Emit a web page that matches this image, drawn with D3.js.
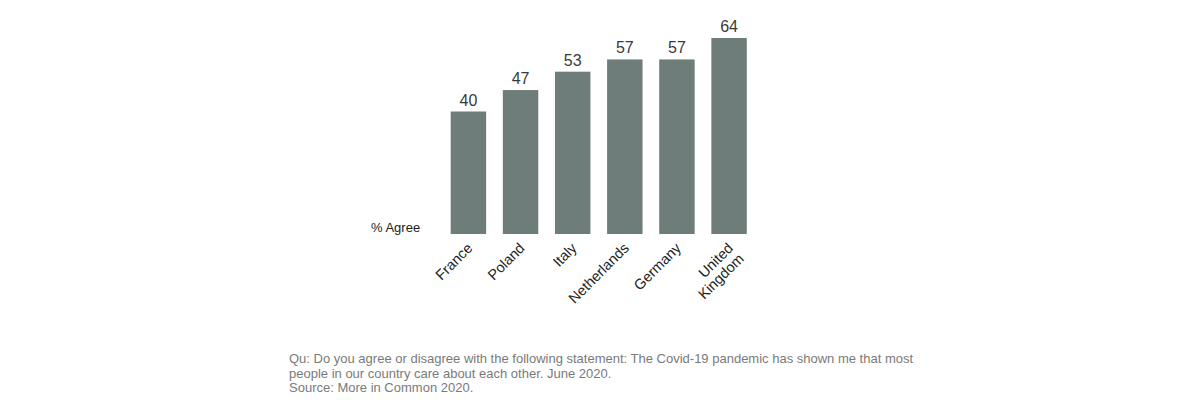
<!DOCTYPE html>
<html>
<head>
<meta charset="utf-8">
<script src="https://cdn.jsdelivr.net/npm/d3@7"></script>
<style>
  body { margin: 0; background: #fff; }
  svg { display: block; font-family: "Liberation Sans", Arial, sans-serif; }
</style>
</head>
<body>
<div id="chart"></div>
<script>
// data
const countries = ['France', 'Poland', 'Italy', 'Netherlands', 'Germany', 'United Kingdom'];
const agreeValues = [40, 47, 53, 57, 57, 64];
const footnoteLines = [
  'Qu: Do you agree or disagree with the following statement: The Covid-19 pandemic has shown me that most',
  'people in our country care about each other. June 2020.',
  'Source: More in Common 2020.',
];

function drawChart() {
  const w = 1200;
  const h = 414;
  const baseline = 234;

  const svg = d3.select('#chart').append('svg').attr('width', w).attr('height', h);

  const x = d3.scaleBand()
    .domain(countries)
    .range([433.5, 764])
    .paddingInner(0.32)
    .paddingOuter(0.33);

  const y = d3.scaleLinear().domain([0, 64]).range([baseline, 38]);

  const data = countries.map((c, i) => ({ country: c, value: agreeValues[i] }));

  // bars
  svg.selectAll('rect.bar')
    .data(data)
    .enter()
    .append('rect')
    .attr('class', 'bar')
    .attr('x', (d) => x(d.country))
    .attr('y', (d) => y(d.value))
    .attr('width', x.bandwidth())
    .attr('height', (d) => baseline - y(d.value))
    .attr('fill', '#6f7d7a');

  // value labels
  svg.selectAll('text.value')
    .data(data)
    .enter()
    .append('text')
    .attr('class', 'value')
    .attr('x', (d) => x(d.country) + x.bandwidth() / 2)
    .attr('y', (d) => y(d.value) - 6)
    .attr('text-anchor', 'middle')
    .attr('font-size', 16)
    .attr('fill', '#3a3a3a')
    .text((d) => d.value);

  // axis label
  svg.append('text')
    .attr('x', 371)
    .attr('y', 232)
    .attr('font-size', 13)
    .attr('fill', '#222')
    .text('% Agree');

  // rotated category labels (UK wraps onto two lines)
  const labels = svg.selectAll('g.cat')
    .data(data)
    .enter()
    .append('g')
    .attr('class', 'cat')
    .attr('transform', (d) => `translate(${x(d.country) + x.bandwidth() / 2 + 5},${baseline + 15}) rotate(-45)`);

  labels.each(function (d) {
    const parts = d.country === 'United Kingdom' ? ['United', 'Kingdom'] : [d.country];
    const t = d3.select(this).append('text')
      .attr('text-anchor', 'end')
      .attr('font-size', 14.5)
      .attr('fill', '#222');
    parts.forEach((p, i) => {
      t.append('tspan').attr('x', 0).attr('dy', i === 0 ? 0 : 15).text(p);
    });
  });

  // footnote
  svg.selectAll('text.note')
    .data(footnoteLines)
    .enter()
    .append('text')
    .attr('class', 'note')
    .attr('x', 289)
    .attr('y', (d, i) => 363 + i * 14.7)
    .attr('font-size', 13)
    .attr('fill', '#7a7a7a')
    .text((d) => d);
}

window.onload = function () {
  drawChart();
};
</script>
</body>
</html>
